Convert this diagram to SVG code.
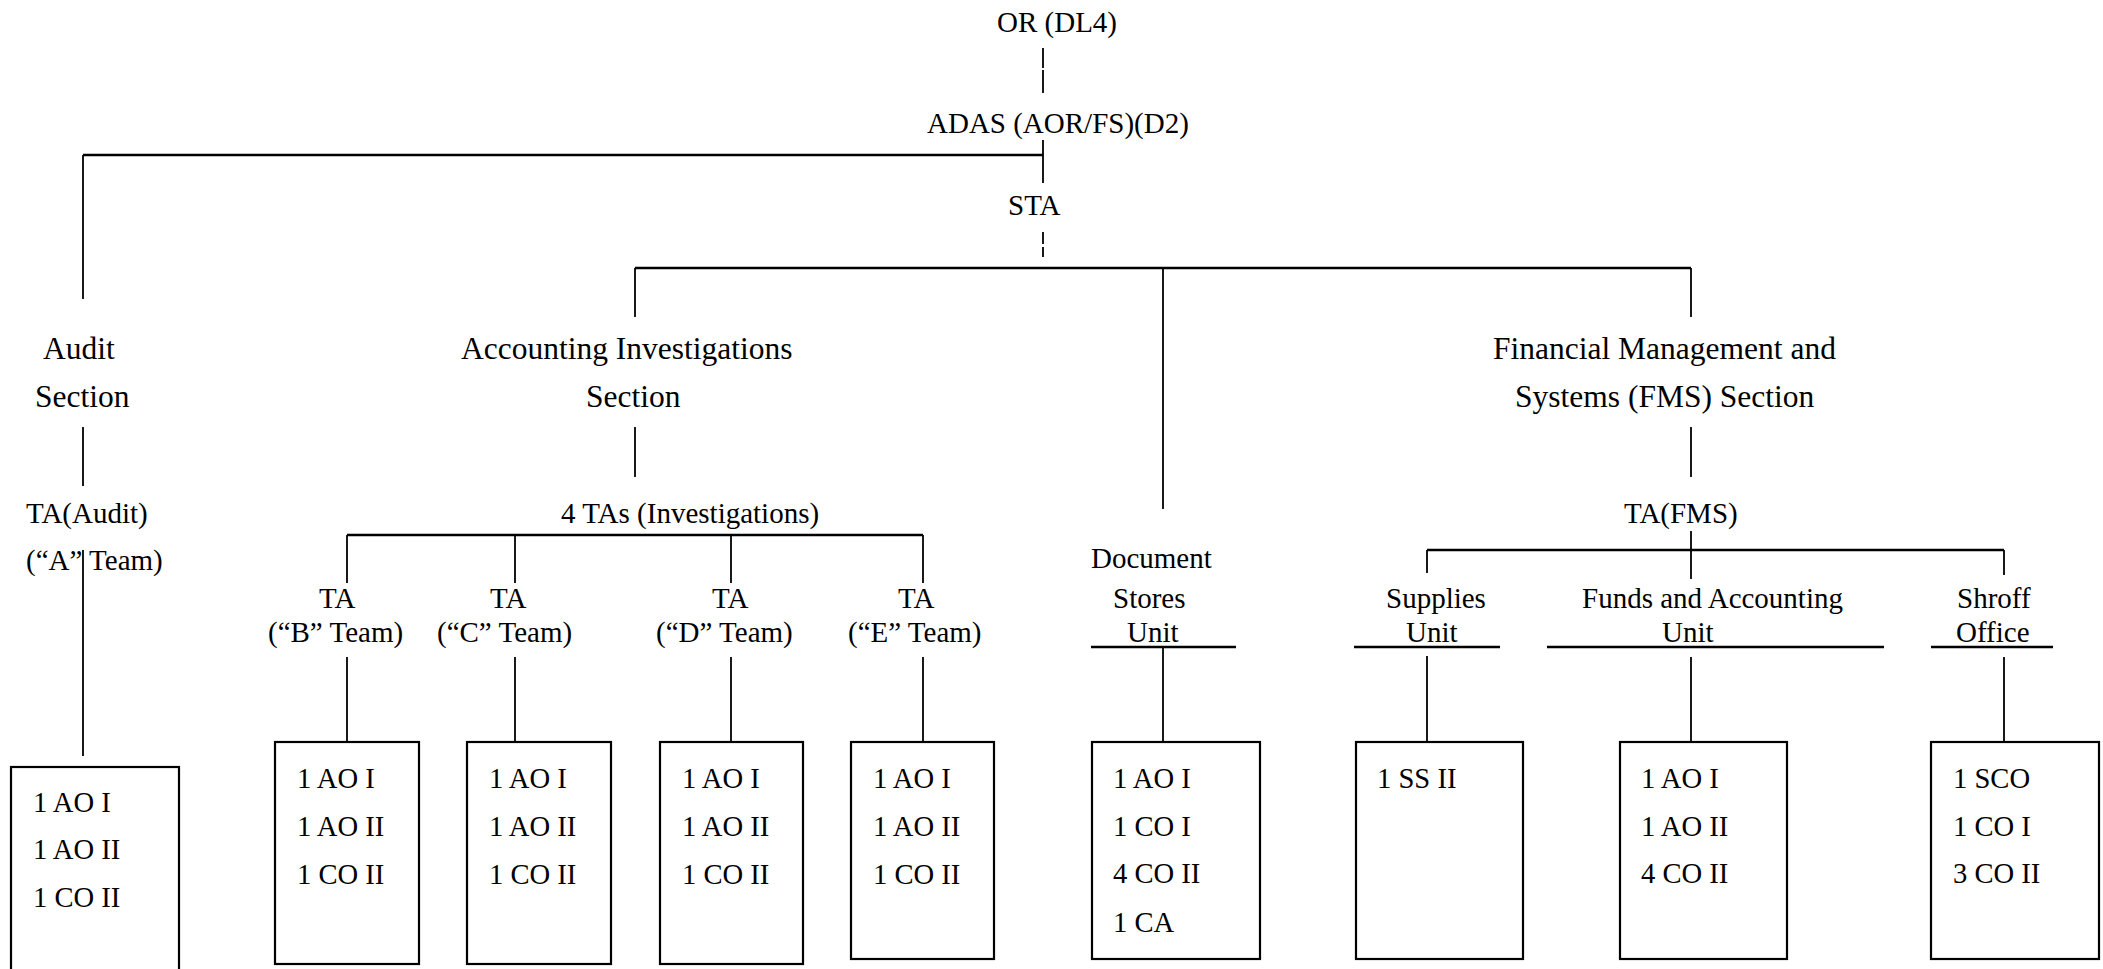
<svg xmlns="http://www.w3.org/2000/svg" width="2103" height="969" viewBox="0 0 2103 969">
<style>
text{font-family:"Liberation Serif","Times New Roman",serif;font-size:29px;fill:#000}
.h{font-size:31.5px}
.b{font-size:28.6px}
.v{stroke:#000;stroke-width:1.8;fill:none}
.hz{stroke:#000;stroke-width:2.6;fill:none}
.box{stroke:#000;stroke-width:2.2;fill:#fff}
</style>
<rect width="2103" height="969" fill="#fff"/>
<g id="connectors">
<line class="v" x1="1043" y1="48" x2="1043" y2="68"/>
<line class="v" x1="1043" y1="70" x2="1043" y2="93"/>
<line class="v" x1="1043" y1="140" x2="1043" y2="183"/>
<line class="hz" x1="83" y1="155" x2="1043" y2="155"/>
<line class="v" x1="83" y1="155" x2="83" y2="299"/>
<line class="v" x1="1043" y1="232" x2="1043" y2="244"/>
<line class="v" x1="1043" y1="247" x2="1043" y2="257"/>
<line class="hz" x1="635" y1="268" x2="1691" y2="268"/>
<line class="v" x1="635" y1="268" x2="635" y2="317"/>
<line class="v" x1="1163" y1="268" x2="1163" y2="509"/>
<line class="v" x1="1691" y1="268" x2="1691" y2="317"/>
<line class="v" x1="83" y1="427" x2="83" y2="486"/>
<line class="v" x1="83" y1="550" x2="83" y2="756"/>
<line class="v" x1="635" y1="427" x2="635" y2="477"/>
<line class="hz" x1="347" y1="535" x2="923" y2="535"/>
<line class="v" x1="347" y1="535" x2="347" y2="583"/>
<line class="v" x1="515" y1="535" x2="515" y2="583"/>
<line class="v" x1="731" y1="535" x2="731" y2="583"/>
<line class="v" x1="923" y1="535" x2="923" y2="583"/>
<line class="v" x1="347" y1="657" x2="347" y2="742"/>
<line class="v" x1="515" y1="657" x2="515" y2="742"/>
<line class="v" x1="731" y1="657" x2="731" y2="742"/>
<line class="v" x1="923" y1="657" x2="923" y2="742"/>
<line class="v" x1="1691" y1="427" x2="1691" y2="477"/>
<line class="v" x1="1691" y1="531" x2="1691" y2="579"/>
<line class="hz" x1="1427" y1="550" x2="2004" y2="550"/>
<line class="v" x1="1427" y1="550" x2="1427" y2="573"/>
<line class="v" x1="2004" y1="550" x2="2004" y2="575"/>
<line class="hz" x1="1091" y1="647" x2="1236" y2="647"/>
<line class="hz" x1="1354" y1="647" x2="1500" y2="647"/>
<line class="hz" x1="1547" y1="647" x2="1884" y2="647"/>
<line class="hz" x1="1931" y1="647" x2="2053" y2="647"/>
<line class="v" x1="1163" y1="647" x2="1163" y2="742"/>
<line class="v" x1="1427" y1="656" x2="1427" y2="742"/>
<line class="v" x1="1691" y1="657" x2="1691" y2="742"/>
<line class="v" x1="2004" y1="657" x2="2004" y2="742"/>
</g>
<g id="or"><text x="997" y="32">OR (DL4)</text></g>
<g id="adas"><text x="927" y="133">ADAS (AOR/FS)(D2)</text></g>
<g id="sta"><text x="1008" y="215">STA</text></g>
<g id="audit-section"><text class="h" x="43" y="359">Audit</text><text class="h" x="35" y="407">Section</text></g>
<g id="acc-section"><text class="h" x="461" y="359">Accounting Investigations</text><text class="h" x="586" y="407">Section</text></g>
<g id="fms-section"><text class="h" x="1493" y="359">Financial Management and</text><text class="h" x="1515" y="407">Systems (FMS) Section</text></g>
<g id="ta-audit"><text x="26" y="523">TA(Audit)</text><text x="26" y="570">(“A” Team)</text></g>
<g id="ta-inv"><text x="561" y="523">4 TAs (Investigations)</text></g>
<g id="ta-fms"><text x="1624" y="523">TA(FMS)</text></g>
<g id="ta-b"><text x="319" y="608">TA</text><text x="268" y="642">(“B” Team)</text></g>
<g id="ta-c"><text x="490" y="608">TA</text><text x="437" y="642">(“C” Team)</text></g>
<g id="ta-d"><text x="712" y="608">TA</text><text x="656" y="642">(“D” Team)</text></g>
<g id="ta-e"><text x="898" y="608">TA</text><text x="848" y="642">(“E” Team)</text></g>
<g id="doc-unit"><text x="1091" y="568">Document</text><text x="1113" y="608">Stores</text><text x="1127" y="642">Unit</text></g>
<g id="supplies-unit"><text x="1386" y="608">Supplies</text><text x="1406" y="642">Unit</text></g>
<g id="funds-unit"><text x="1582" y="608">Funds and Accounting</text><text x="1662" y="642">Unit</text></g>
<g id="shroff-office"><text x="1957" y="608">Shroff</text><text x="1956" y="642">Office</text></g>
<g id="box-a"><rect class="box" x="11" y="767" width="168" height="215"/><text class="b" x="33" y="812">1 AO I</text><text class="b" x="33" y="859">1 AO II</text><text class="b" x="33" y="907">1 CO II</text></g>
<g id="box-b"><rect class="box" x="275" y="742" width="144" height="222"/><text class="b" x="297" y="788">1 AO I</text><text class="b" x="297" y="836">1 AO II</text><text class="b" x="297" y="884">1 CO II</text></g>
<g id="box-c"><rect class="box" x="467" y="742" width="144" height="222"/><text class="b" x="489" y="788">1 AO I</text><text class="b" x="489" y="836">1 AO II</text><text class="b" x="489" y="884">1 CO II</text></g>
<g id="box-d"><rect class="box" x="660" y="742" width="143" height="222"/><text class="b" x="682" y="788">1 AO I</text><text class="b" x="682" y="836">1 AO II</text><text class="b" x="682" y="884">1 CO II</text></g>
<g id="box-e"><rect class="box" x="851" y="742" width="143" height="217"/><text class="b" x="873" y="788">1 AO I</text><text class="b" x="873" y="836">1 AO II</text><text class="b" x="873" y="884">1 CO II</text></g>
<g id="box-doc"><rect class="box" x="1092" y="742" width="168" height="217"/><text class="b" x="1113" y="788">1 AO I</text><text class="b" x="1113" y="836">1 CO I</text><text class="b" x="1113" y="883">4 CO II</text><text class="b" x="1113" y="932">1 CA</text></g>
<g id="box-supplies"><rect class="box" x="1356" y="742" width="167" height="217"/><text class="b" x="1377" y="788">1 SS II</text></g>
<g id="box-funds"><rect class="box" x="1620" y="742" width="167" height="217"/><text class="b" x="1641" y="788">1 AO I</text><text class="b" x="1641" y="836">1 AO II</text><text class="b" x="1641" y="883">4 CO II</text></g>
<g id="box-shroff"><rect class="box" x="1931" y="742" width="168" height="217"/><text class="b" x="1953" y="788">1 SCO</text><text class="b" x="1953" y="836">1 CO I</text><text class="b" x="1953" y="883">3 CO II</text></g>
</svg>
